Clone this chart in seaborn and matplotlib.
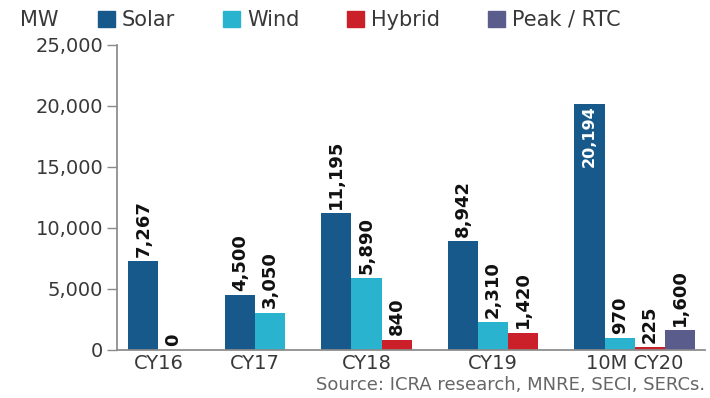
import numpy as np
import pandas as pd
import matplotlib
matplotlib.use("Agg")
import matplotlib.pyplot as plt
import seaborn as sns

# ---- data ----
groups = ["CY16", "CY17", "CY18", "CY19", "10M CY20"]
solar = [7267, 4500, 11195, 8942, 20194]
wind = [0, 3050, 5890, 2310, 970]
hybrid = [None, None, 840, 1420, 225]
peak = [None, None, None, None, 1600]
types = ["Solar", "Wind", "Hybrid", "Peak / RTC"]
colors = {"Solar": "#17598a", "Wind": "#2ab3cf", "Hybrid": "#cb2029", "Peak / RTC": "#5a5c8c"}
yticks = [0, 5000, 10000, 15000, 20000, 25000]

GROUP_GAP = 1.2  # layout: gap between groups, in bar widths

rows = []
k = 0
centers = []
for gi, (g, s, w, h, p) in enumerate(zip(groups, solar, wind, hybrid, peak)):
    start = None
    for t, v in zip(types, [s, w, h, p]):
        if v is not None:
            pos = k + gi * GROUP_GAP
            if start is None:
                start = pos
            rows.append({"group": g, "type": t, "value": v, "pos": pos})
            k += 1
    centers.append((start + pos) / 2)
df = pd.DataFrame(rows)

sns.set_theme(style="white")
plt.rcParams["font.family"] = ["DejaVu Sans"]

fig = plt.figure(figsize=(7.10, 3.98), dpi=100)
ax = fig.add_axes([0.165, 0.121, 0.828, 0.766])

sns.barplot(data=df, x="pos", y="value", hue="type", hue_order=types,
            palette=colors, dodge=False, width=1.0, saturation=1, ax=ax,
            native_scale=True, linewidth=0, legend=False)

last = df["pos"].max()
ax.set_ylim(0, 25000)
ax.set_xlim(-0.87, last + 0.83)
ax.set_yticks(yticks)
ax.set_yticklabels([f"{v:,}" for v in yticks], fontsize=14, color="#383838")
ax.set_xticks(centers)
ax.set_xticklabels(groups, fontsize=14, color="#383838")
ax.set_xlabel("")
ax.set_ylabel("")
for s in ["top", "right"]:
    ax.spines[s].set_visible(False)
ax.spines["left"].set_color("#8a8a8a")
ax.spines["bottom"].set_color("#8a8a8a")
ax.tick_params(axis="y", length=7, width=1, color="#8a8a8a", pad=3, left=True)
ax.tick_params(axis="x", length=0, pad=3)

for cont in ax.containers:
    for bar, val in zip(cont, cont.datavalues):
        if np.isnan(val):
            continue
        x = bar.get_x() + bar.get_width() / 2
        h = bar.get_height()
        if val > 15000:
            ax.annotate(f"{val:,.0f}", (x, h), xytext=(0, -1), textcoords="offset points",
                        rotation=90, ha="center", va="top", color="white",
                        fontsize=11.5, fontweight="bold")
        else:
            ax.annotate(f"{val:,.0f}", (x, h), xytext=(0, 3), textcoords="offset points",
                        rotation=90, ha="center", va="bottom", color="#111111",
                        fontsize=13, fontweight="bold")

handles = [plt.Rectangle((0, 0), 1, 1, color=colors[t]) for t in types]
fig.legend(handles, types, loc="center left", bbox_to_anchor=(0.138, 0.95), ncol=4,
           frameon=False, fontsize=15, handlelength=0.8, handleheight=0.8,
           handletextpad=0.35, columnspacing=2.3, labelcolor="#383838",
           borderaxespad=0, borderpad=0)
fig.text(0.028, 0.95, "MW", fontsize=15, color="#383838", va="center")
fig.text(0.993, 0.032, "Source: ICRA research, MNRE, SECI, SERCs.", fontsize=13,
         color="#666666", ha="right", va="center")

fig.savefig("out.png", dpi=100)
